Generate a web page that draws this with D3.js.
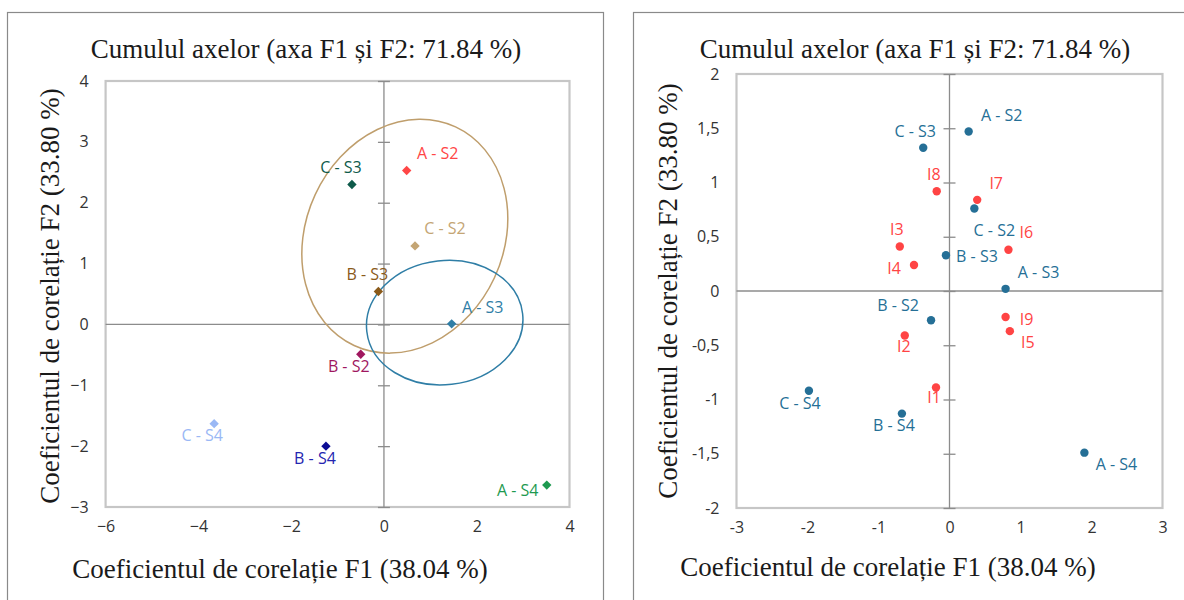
<!DOCTYPE html>
<meta charset="utf-8">
<html>

<head>
    <title>Cumulul axelor F1 si F2</title>
    <script src="https://d3js.org/d3.v7.min.js"></script>
    <style>
        body {
            margin: 0;
            background: white;
        }

        .title,
        .axis-title {
            font-family: 'Liberation Serif', 'Times New Roman', serif;
            font-size: 27px;
            fill: #1a1a1a;
        }

        .tick text {
            font-family: 'Open Sans', sans-serif;
            font-size: 16px;
            fill: #333;
        }

        .pt-label {
            font-family: 'Open Sans', sans-serif;
            font-size: 16px;
        }
    </style>
</head>

<body>
    <svg width="1184" height="600"></svg>

    <script>
        // ---- left chart: observations (F1, F2)
        const leftNames = ["A - S2", "C - S3", "C - S2", "B - S3", "A - S3", "B - S2", "C - S4", "B - S4", "A - S4"];
        const leftF1 = [0.49, -0.69, 0.67, -0.12, 1.46, -0.50, -3.66, -1.25, 3.51];
        const leftF2 = [2.53, 2.30, 1.29, 0.54, 0.01, -0.49, -1.63, -2.00, -2.64];
        const leftXTicks = [-6, -4, -2, 0, 2, 4];
        const leftYTicks = [-3, -2, -1, 0, 1, 2, 3, 4];
        // confidence ellipses: centre, semi axes (data units), tilt in degrees
        const ellipseNames = ["grup C - S2", "grup A - S3"];
        const ellipseCx = [0.45, 1.31];
        const ellipseCy = [1.45, 0.03];
        const ellipseRx = [2.13, 1.69];
        const ellipseRy = [1.98, 1.02];
        const ellipseTilt = [24.9, -6.5];

        // ---- right chart: observations + variables
        const rightNames = ["A - S2", "C - S3", "I8", "I7", "C - S2", "I6", "I3", "B - S3", "I4", "A - S3",
            "B - S2", "I9", "I5", "I2", "I1", "C - S4", "B - S4", "A - S4"];
        const rightF1 = [0.27, -0.37, -0.18, 0.39, 0.35, 0.83, -0.70, -0.05, -0.50, 0.79,
            -0.26, 0.79, 0.85, -0.63, -0.19, -1.98, -0.67, 1.90];
        const rightF2 = [1.47, 1.32, 0.92, 0.84, 0.76, 0.38, 0.41, 0.33, 0.24, 0.02,
            -0.27, -0.24, -0.37, -0.41, -0.89, -0.92, -1.13, -1.49];
        const rightXTicks = [-3, -2, -1, 0, 1, 2, 3];
        const rightYTicks = [-2, -1.5, -1, -0.5, 0, 0.5, 1, 1.5, 2];

        const titleText = "Cumulul axelor (axa F1 și F2: 71.84 %)";
        const xTitleText = "Coeficientul de corelație F1 (38.04 %)";
        const yTitleText = "Coeficientul de corelație F2 (33.80 %)";

        // styling / layout (not data)
        const leftColors = ["#ff4646", "#0e5a4a", "#c4a574", "#8a5a1a", "#2f7ea6", "#a0175f", "#9ab8f5", "#0c0c94", "#1e9a50"];
        const leftLabelColors = ["#ff4646", "#0e5a4a", "#c4a574", "#8a5a1a", "#2f7ea6", "#a0175f", "#9ab8f5", "#2424b0", "#1e9a50"];
        const leftLabelOff = [[31, -17], [-11, -17], [30, -18], [-11, -17], [31, -17], [-12, 12], [-12, 12], [-11, 12], [-29, 5]];
        const ellipseColors = ["#bf9e6c", "#2f7ea6"];
        const rightLabelOff = [[33, -16], [-8, -17], [-3, -17], [19, -17], [20, 22], [18, -18], [-3, -17], [31, 1], [-20, 3], [33, -17],
            [-33, -15], [21, 2], [18, 11], [-1, 11], [-2, 10], [-9, 12], [-8, 12], [32, 12]];
        const blue = "#256f96";
        const red = "#ff4444";

        const svg = d3.select("svg");

        function drawPanel(p) {
            const g = svg.append("g");

            // outer chart frame
            g.append("rect")
                .attr("x", p.frame[0]).attr("y", p.frame[1])
                .attr("width", p.frame[2] - p.frame[0]).attr("height", 700)
                .attr("fill", "white").attr("stroke", "#8a8a8a").attr("stroke-width", 1.2);

            const x = d3.scaleLinear().domain(p.xDomain).range([p.plot.left, p.plot.right]);
            const y = d3.scaleLinear().domain(p.yDomain).range([p.plot.bottom, p.plot.top]);

            // plot area border
            g.append("rect")
                .attr("x", p.plot.left).attr("y", p.plot.top)
                .attr("width", p.plot.right - p.plot.left).attr("height", p.plot.bottom - p.plot.top)
                .attr("fill", "none").attr("stroke", "#c6c6c6").attr("stroke-width", 2.2);

            // tick labels (no lines) on plot edges
            g.append("g")
                .attr("transform", `translate(${p.plot.left},0)`)
                .call(d3.axisLeft(y).tickValues(p.yTicks).tickSize(0).tickPadding(17).tickFormat(p.fmt))
                .call(a => a.select(".domain").remove());
            g.append("g")
                .attr("transform", `translate(0,${p.plot.bottom})`)
                .call(d3.axisBottom(x).tickValues(p.xTicks).tickSize(0).tickPadding(14).tickFormat(p.fmt))
                .call(a => a.select(".domain").remove());

            // zero lines, vertical one with cross ticks
            g.append("line")
                .attr("x1", p.plot.left).attr("x2", p.plot.right)
                .attr("y1", y(0)).attr("y2", y(0))
                .attr("stroke", "#8c8c8c").attr("stroke-width", 1.3);
            g.append("g")
                .attr("transform", `translate(${x(0) - 6},0)`)
                .call(d3.axisRight(y).tickValues(p.yTicks).tickSize(12).tickFormat(""))
                .call(a => a.selectAll("line").attr("stroke", "#8c8c8c").attr("stroke-width", 1.3))
                .call(a => a.select(".domain").remove());
            g.append("line")
                .attr("x1", x(0)).attr("x2", x(0))
                .attr("y1", p.plot.top).attr("y2", p.plot.bottom)
                .attr("stroke", "#8c8c8c").attr("stroke-width", 1.3);

            // titles
            g.append("text").attr("class", "title")
                .attr("x", p.titleX).attr("y", 58).attr("text-anchor", "middle").text(titleText);
            g.append("text").attr("class", "axis-title")
                .attr("x", p.xTitleX).attr("y", p.xTitleY).attr("text-anchor", "middle").text(xTitleText);
            g.append("text").attr("class", "axis-title")
                .attr("transform", `translate(${p.yTitleX},${p.yTitleY}) rotate(-90)`)
                .attr("text-anchor", "middle").text(yTitleText);

            return { g, x, y };
        }

        // ---------- left chart
        const L = drawPanel({
            frame: [7.5, 12.5, 603.5],
            plot: { left: 105.6, right: 569.5, top: 81, bottom: 507 },
            xDomain: [-6, 4], yDomain: [-3, 4],
            xTicks: leftXTicks, yTicks: leftYTicks,
            fmt: d => d3.format("d")(d),
            titleX: 306, xTitleX: 280, xTitleY: 578, yTitleX: 59, yTitleY: 296
        });

        const ellipses = ellipseNames.map((n, i) => ({
            n, cx: ellipseCx[i], cy: ellipseCy[i], rx: ellipseRx[i], ry: ellipseRy[i], tilt: ellipseTilt[i], color: ellipseColors[i]
        }));
        L.g.selectAll(".ell").data(ellipses).join("ellipse")
            .attr("class", "ell")
            .attr("cx", 0).attr("cy", 0)
            .attr("rx", d => L.x(d.rx) - L.x(0))
            .attr("ry", d => L.y(0) - L.y(d.ry))
            .attr("transform", d => `translate(${L.x(d.cx)},${L.y(d.cy)}) rotate(${d.tilt})`)
            .attr("fill", "none").attr("stroke", d => d.color).attr("stroke-width", 1.5);

        const leftData = leftNames.map((n, i) => ({ n, f1: leftF1[i], f2: leftF2[i], i }));
        const diamond = d3.symbol().type(d3.symbolSquare).size(44);
        L.g.selectAll(".pt").data(leftData).join("path")
            .attr("class", "pt")
            .attr("d", diamond)
            .attr("transform", d => `translate(${L.x(d.f1)},${L.y(d.f2)}) rotate(45)`)
            .attr("fill", d => leftColors[d.i]);
        L.g.selectAll(".pt-label").data(leftData).join("text")
            .attr("class", "pt-label")
            .attr("x", d => L.x(d.f1) + leftLabelOff[d.i][0])
            .attr("y", d => L.y(d.f2) + leftLabelOff[d.i][1])
            .attr("dy", "0.36em")
            .attr("text-anchor", "middle")
            .attr("fill", d => leftLabelColors[d.i])
            .text(d => d.n);

        // ---------- right chart
        const R = drawPanel({
            frame: [633.5, 12.5, 1200],
            plot: { left: 736.5, right: 1162.5, top: 74, bottom: 508 },
            xDomain: [-3, 3], yDomain: [-2, 2],
            xTicks: rightXTicks, yTicks: rightYTicks,
            fmt: d => String(d).replace(".", ","),
            titleX: 915, xTitleX: 888, xTitleY: 576, yTitleX: 677, yTitleY: 291
        });

        const rightData = rightNames.map((n, i) => ({ n, f1: rightF1[i], f2: rightF2[i], i, isVar: n.startsWith("I") }));
        R.g.selectAll(".pt").data(rightData).join("circle")
            .attr("class", "pt")
            .attr("cx", d => R.x(d.f1)).attr("cy", d => R.y(d.f2))
            .attr("r", 4.2)
            .attr("fill", d => d.isVar ? red : blue);
        R.g.selectAll(".pt-label").data(rightData).join("text")
            .attr("class", "pt-label")
            .attr("x", d => R.x(d.f1) + rightLabelOff[d.i][0])
            .attr("y", d => R.y(d.f2) + rightLabelOff[d.i][1])
            .attr("dy", "0.36em")
            .attr("text-anchor", "middle")
            .attr("fill", d => d.isVar ? red : blue)
            .text(d => d.n);
    </script>
</body>

</html>
